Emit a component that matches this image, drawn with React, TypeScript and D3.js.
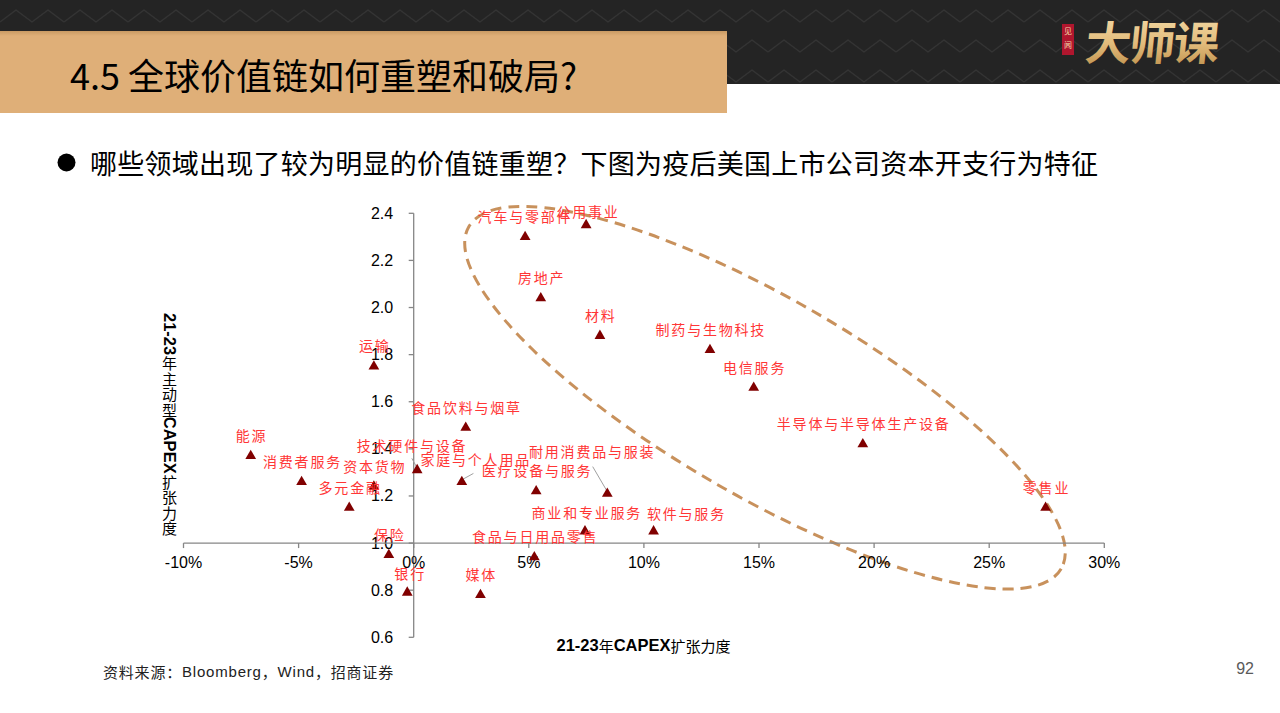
import React from 'react';
import * as d3 from 'd3';

// ---------- data ----------
const categories = [
  '汽车与零部件', '公用事业', '房地产', '材料', '运输', '制药与生物科技', '电信服务',
  '半导体与半导体生产设备', '零售业', '软件与服务', '耐用消费品与服装', '食品饮料与烟草',
  '能源', '消费者服务', '多元金融', '资本货物', '技术硬件与设备', '家庭与个人用品',
  '医疗设备与服务', '保险', '银行', '媒体', '食品与日用品零售', '商业和专业服务',
];
// 21-23年CAPEX扩张力度 (%)
const capexExpansion = [
  4.84, 7.49, 5.52, 8.09, -1.73, 12.87, 14.77,
  19.51, 27.45, 10.42, 8.41, 2.26,
  -7.08, -4.87, -2.80, -1.73, 0.15, 2.09,
  5.32, -1.08, -0.28, 2.90, 5.24, 7.44,
];
// 21-23年主动型CAPEX扩张力度
const activeCapexExpansion = [
  2.30, 2.35, 2.04, 1.88, 1.75, 1.82, 1.66,
  1.42, 1.15, 1.05, 1.21, 1.49,
  1.37, 1.26, 1.15, 1.24, 1.31, 1.26,
  1.22, 0.95, 0.79, 0.78, 0.94, 1.05,
];
const xTicks = [-10, -5, 0, 5, 10, 15, 20, 25, 30];
const yTicks = [0.6, 0.8, 1.0, 1.2, 1.4, 1.6, 1.8, 2.0, 2.2, 2.4];
const xDomain: [number, number] = [-10, 30];
const yDomain: [number, number] = [0.6, 2.4];
const xOrigin = 0;
const yOrigin = 1.0;
// highlighted region (data-unit centre)
const ellipseCenter: [number, number] = [15.26, 1.617];

// ---------- layout / style (pixels) ----------
const labelOffsets: Record<string, [number, number]> = {
  '汽车与零部件': [-1, -21],
  '公用事业': [1, -14],
  '软件与服务': [32, -18],
  '耐用消费品与服装': [-16, -43],
  '家庭与个人用品': [13, -23],
  '技术硬件与设备': [-6, -25],
  '商业和专业服务': [1, -19],
  '银行': [2, -20],
};
const leaderStarts: Record<string, [number, number]> = {
  '耐用消费品与服装': [-14.6, -27],
  '家庭与个人用品': [11.6, -8.4],
  '技术硬件与设备': [-5.3, -11.7],
};

const CJK = "'Noto Sans CJK SC', 'Noto Sans', sans-serif";
const LAT = "'Liberation Sans', Arial, sans-serif";

const bulletText = '哪些领域出现了较为明显的价值链重塑？下图为疫后美国上市公司资本开支行为特征';

function VerticalTitle({ cx, y0 }: { cx: number; y0: number }) {
  const segs: { t: string; latin: boolean }[] = [
    { t: '21-23', latin: true },
    { t: '年主动型', latin: false },
    { t: 'CAPEX', latin: true },
    { t: '扩张力度', latin: false },
  ];
  const latW: Record<string, number> = { '0': 0.556, '1': 0.556, '2': 0.556, '3': 0.556, '-': 0.333, C: 0.722, A: 0.722, P: 0.667, E: 0.667, X: 0.667 };
  const latSize = 16.5;
  const cjkAdv = 15.4;
  const out: React.ReactNode[] = [];
  let y = y0;
  segs.forEach((s, i) => {
    if (s.latin) {
      const w = s.t.split('').reduce((a, c) => a + (latW[c] || 0.6) * latSize, 0);
      out.push(
        <text key={i} transform={`translate(${cx},${y}) rotate(90)`} x={0} y={0}
          dominantBaseline="central" fontFamily={LAT} fontWeight="bold" fontSize={latSize} fill="#000">{s.t}</text>
      );
      y += w;
    } else {
      s.t.split('').forEach((c, j) => {
        out.push(
          <text key={`${i}-${j}`} x={cx} y={y + cjkAdv / 2} textAnchor="middle" dominantBaseline="central"
            fontFamily={CJK} fontSize={15} fill="#000">{c}</text>
        );
        y += cjkAdv;
      });
    }
  });
  return <g>{out}</g>;
}

export default function App() {
  const W = 1280, H = 713;
  const x = d3.scaleLinear().domain(xDomain).range([183.5, 1104.3]);
  const y = d3.scaleLinear().domain(yDomain).range([637.3, 213.3]);
  const tri = d3.symbol().type(d3.symbolTriangle).size(50)() as string;
  const x0 = x(xOrigin);
  const y0 = y(yOrigin);
  const axisColor = '#868686';
  const labelColor = '#FF3636';

  const points = categories.map((c, i) => ({
    name: c,
    px: x(capexExpansion[i]),
    py: y(activeCapexExpansion[i]),
  }));

  return (
    <svg width={W} height={H} style={{ position: 'absolute', left: 0, top: 0, background: '#fff' }}
      xmlns="http://www.w3.org/2000/svg">
      <defs>
        <pattern id="zig" width="64" height="30" patternUnits="userSpaceOnUse">
          <path d="M0 22 L16 10 L32 22 L48 10 L64 22" stroke="#343434" strokeWidth="1.2" fill="none" />
        </pattern>
        <linearGradient id="gold" x1="0" y1="0" x2="0" y2="1">
          <stop offset="0" stopColor="#F7E0AE" />
          <stop offset="0.55" stopColor="#E2BC7C" />
          <stop offset="1" stopColor="#B98A45" />
        </linearGradient>
        <linearGradient id="tanShade" x1="0" y1="0" x2="0" y2="1">
          <stop offset="0" stopColor="#C99A63" />
          <stop offset="0.06" stopColor="#DFAF78" />
          <stop offset="1" stopColor="#DFAF78" />
        </linearGradient>
      </defs>

      {/* header */}
      <rect x={0} y={0} width={W} height={84} fill="#242424" />
      <rect x={0} y={0} width={W} height={84} fill="url(#zig)" />
      <rect x={0} y={31} width={727} height={82} fill="url(#tanShade)" />
      <text x={70} y={90} fontFamily={CJK} fontSize={36} fill="#000">4.5 全球价值链如何重塑和破局?</text>
      {/* logo */}
      <rect x={1062} y={24} width={12} height={31} fill="#B0162E" />
      <text x={1068} y={34} textAnchor="middle" fontFamily={CJK} fontSize={8} fill="#F3D9A8">见</text>
      <text x={1068} y={48} textAnchor="middle" fontFamily={CJK} fontSize={8} fill="#F3D9A8">闻</text>
      <text x={1150} y={60} textAnchor="middle" fontFamily={CJK} fontWeight="bold" fontSize={46}
        fill="url(#gold)" transform="skewX(-6) translate(6,0)" letterSpacing={-2}>大师课</text>

      {/* bullet */}
      <circle cx={66.5} cy={162.5} r={9} fill="#000" />
      <text x={90} y={162} dominantBaseline="central" fontFamily={CJK} fontSize={27} letterSpacing={0.25} fill="#000">{bulletText}</text>

      {/* highlight ellipse */}
      <ellipse cx={x(ellipseCenter[0])} cy={y(ellipseCenter[1])} rx={342} ry={99}
        transform={`rotate(30 ${x(ellipseCenter[0])} ${y(ellipseCenter[1])})`}
        fill="none" stroke="#C8915C" strokeWidth={3} strokeDasharray="11 7" />

      {/* axes */}
      <line x1={x0} x2={x0} y1={y(yDomain[0])} y2={y(yDomain[1])} stroke={axisColor} strokeWidth={1.3} />
      {yTicks.map(t => (
        <g key={`yt${t}`}>
          <line x1={x0 - 5} x2={x0} y1={y(t)} y2={y(t)} stroke={axisColor} strokeWidth={1.3} />
          <text x={x0 - 20.5} y={y(t)} textAnchor="end" dominantBaseline="central" fontFamily={LAT} fontSize={16} fill="#000">{t.toFixed(1)}</text>
        </g>
      ))}
      <line x1={x(xDomain[0])} x2={x(xDomain[1])} y1={y0} y2={y0} stroke={axisColor} strokeWidth={1.3} />
      {xTicks.map(t => (
        <g key={`xt${t}`}>
          <line x1={x(t)} x2={x(t)} y1={y0} y2={y0 + 5} stroke={axisColor} strokeWidth={1.3} />
          <text x={x(t)} y={y0 + 19} textAnchor="middle" dominantBaseline="central" fontFamily={LAT} fontSize={16} fill="#000">{`${t}%`}</text>
        </g>
      ))}

      {/* leader lines */}
      {points.filter(p => leaderStarts[p.name]).map(p => {
        const [sx, sy] = leaderStarts[p.name];
        return <line key={`ld${p.name}`} x1={p.px + sx} y1={p.py + sy} x2={p.px} y2={p.py - 2}
          stroke="#A0A0A0" strokeWidth={1} />;
      })}

      {/* markers */}
      {points.map(p => (
        <path key={`m${p.name}`} d={tri} transform={`translate(${p.px},${p.py})`} fill="#800000" />
      ))}

      {/* labels */}
      {points.map(p => {
        const [dx, dy] = labelOffsets[p.name] || [0, -21];
        return (
          <text key={`l${p.name}`} x={p.px + dx + 0.9} y={p.py + dy} textAnchor="middle" dominantBaseline="central"
            fontFamily={CJK} fontSize={14} letterSpacing={1.8} fill={labelColor}>{p.name}</text>
        );
      })}

      {/* axis titles */}
      <VerticalTitle cx={169.5} y0={313} />
      <text x={643.5} y={645} textAnchor="middle" dominantBaseline="central" fill="#000">
        <tspan fontFamily={LAT} fontWeight="bold" fontSize={16.5}>21-23</tspan>
        <tspan fontFamily={CJK} fontSize={15}>年</tspan>
        <tspan fontFamily={LAT} fontWeight="bold" fontSize={16.5}>CAPEX</tspan>
        <tspan fontFamily={CJK} fontSize={15}>扩张力度</tspan>
      </text>

      {/* footer */}
      <text x={103} y={671} dominantBaseline="central" fill="#222" fontSize={15} letterSpacing={0.8}>
        <tspan fontFamily={CJK}>资料来源：</tspan>
        <tspan fontFamily={LAT}>Bloomberg</tspan>
        <tspan fontFamily={CJK}>，</tspan>
        <tspan fontFamily={LAT}>Wind</tspan>
        <tspan fontFamily={CJK}>，招商证券</tspan>
      </text>
      <text x={1254} y={668} textAnchor="end" dominantBaseline="central" fontFamily={LAT} fontSize={16} fill="#5A5A5A">92</text>
    </svg>
  );
}
